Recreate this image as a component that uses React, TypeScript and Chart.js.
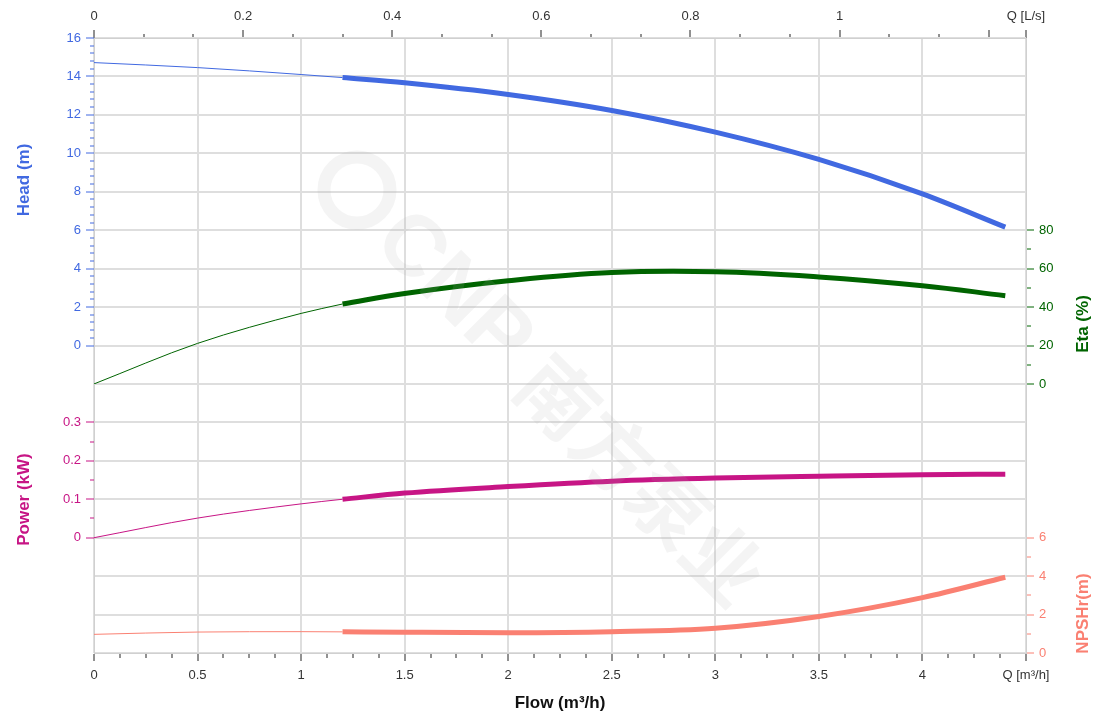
import React, { useEffect, useRef } from 'react';
import { Chart, registerables } from 'chart.js';

Chart.register(...registerables);

// ---------- data ----------
const flowThin = [0, 0.5, 1.0, 1.2];
const flowThick = [1.2, 1.5, 2.0, 2.5, 3.0, 3.5, 4.0, 4.4];

const headThin = [14.72, 14.46, 14.1, 13.94];
const headThick = [13.94, 13.67, 13.06, 12.23, 11.1, 9.68, 7.89, 6.16];

const etaThin = [0, 21.1, 36.7, 41.6];
const etaThick = [41.6, 47.1, 53.7, 58.0, 58.4, 55.7, 51.1, 45.9];

const powerThin = [0, 0.051, 0.088, 0.1];
const powerThick = [0.1, 0.116, 0.133, 0.147, 0.155, 0.16, 0.164, 0.165];

const npshThin = [0.97, 1.09, 1.11, 1.1];
const npshThick = [1.1, 1.08, 1.06, 1.11, 1.29, 1.9, 2.88, 3.94];

// ---------- tick labels ----------
const flowTickValues = [0, 0.5, 1, 1.5, 2, 2.5, 3, 3.5, 4, 4.5];
const flowTickLabels = ['0', '0.5', '1', '1.5', '2', '2.5', '3', '3.5', '4', 'Q [m³/h]'];
const lpsTickValues = [0, 0.2, 0.4, 0.6, 0.8, 1, 1.2, 1.25];
const lpsTickLabels = ['0', '0.2', '0.4', '0.6', '0.8', '1', '', 'Q [L/s]'];
const headTickValues = [0, 2, 4, 6, 8, 10, 12, 14, 16];
const headTickLabels = ['0', '2', '4', '6', '8', '10', '12', '14', '16'];
const powerTickValues = [0, 0.1, 0.2, 0.3];
const powerTickLabels = ['0', '0.1', '0.2', '0.3'];
const etaTickValues = [0, 20, 40, 60, 80];
const etaTickLabels = ['0', '20', '40', '60', '80'];
const npshTickValues = [0, 2, 4, 6];
const npshTickLabels = ['0', '2', '4', '6'];

// ---------- style ----------
const HEAD_C = '#4169E1';
const ETA_C = '#006400';
const POWER_C = '#C71585';
const NPSH_C = '#FA8072';
const GRID_C = '#dedede';
const BORDER_C = '#d0d0d0';
const AXIS_TXT = '#333333';
const FONT = '"Liberation Sans", Arial, sans-serif';

type Tk = { value: number; lbl: string; mark: '' | 'major' | 'minor'; grid: boolean };

function buildTicks(
  values: number[],
  labels: string[],
  minorStep: number,
  grid?: { min: number; max: number; step: number }
): Tk[] {
  const out: Tk[] = [];
  const onGrid = (v: number) => {
    if (!grid) return false;
    const r = (v - grid.min) / grid.step;
    return Math.abs(r - Math.round(r)) < 1e-6;
  };
  values.forEach((v, i) => {
    out.push({ value: v, lbl: labels[i], mark: 'major', grid: onGrid(v) });
    if (i < values.length - 1) {
      const gap = values[i + 1] - v;
      const n = Math.round(gap / minorStep);
      for (let j = 1; j < n; j++) out.push({ value: v + (j * gap) / n, lbl: '', mark: 'minor', grid: false });
    }
  });
  if (grid) {
    const n = Math.round((grid.max - grid.min) / grid.step);
    for (let k = 0; k <= n; k++) {
      const v = grid.min + k * grid.step;
      if (!out.some((t) => Math.abs(t.value - v) < 1e-7)) out.push({ value: v, lbl: '', mark: '', grid: true });
    }
  }
  out.sort((a, b) => a.value - b.value);
  return out;
}

const INNER_HALF = [0, 4, 4, 1000]; // for ticks drawn outer -> inner (left, top)
const OUTER_FIRST = [4, 1000]; // for ticks drawn inner -> outer (right, bottom)

function axis(o: {
  position: string;
  min: number;
  max: number;
  ticks: Tk[];
  color: string;
  tickColor: string;
  drawGrid: boolean;
  size: number;
  padding: number;
  stack?: string;
  stackWeight?: number;
  weight?: number;
  title?: any;
}) {
  const horizontal = o.position === 'top' || o.position === 'bottom';
  const minorDash = o.position === 'left' || o.position === 'top' ? INNER_HALF : OUTER_FIRST;
  const s: any = {
    type: 'linear',
    position: o.position,
    min: o.min,
    max: o.max,
    afterBuildTicks: (sc: any) => {
      sc.ticks = o.ticks.map((t) => ({ ...t }));
    },
    afterFit: (sc: any) => {
      if (horizontal) sc.height = o.size;
      else sc.width = o.size;
    },
    ticks: {
      autoSkip: false,
      maxRotation: 0,
      minRotation: 0,
      padding: o.padding,
      color: o.color,
      font: { size: 13, family: FONT },
      callback: (_v: any, i: number, arr: any[]) => (arr[i] ? arr[i].lbl : ''),
    },
    grid: {
      drawOnChartArea: o.drawGrid,
      drawTicks: true,
      tickLength: 8,
      color: GRID_C,
      lineWidth: (c: any) => (c.tick && c.tick.grid ? 2 : 0),
      tickColor: o.tickColor,
      tickWidth: (c: any) => (c.tick && c.tick.mark ? 1 : 0),
      tickBorderDash: (c: any) => (c.tick && c.tick.mark === 'minor' ? minorDash : []),
    },
    border: { display: true, color: BORDER_C, width: 1 },
    title: o.title || { display: false },
  };
  if (o.stack) {
    s.stack = o.stack;
    s.stackWeight = o.stackWeight;
  }
  if (o.weight !== undefined) s.weight = o.weight;
  return s;
}

const yTitlesPlugin = {
  id: 'yTitles',
  afterDraw(chart: any) {
    const { ctx } = chart;
    const items = [
      { text: 'Head (m)', color: HEAD_C, x: 24.5, y: 180 },
      { text: 'Power (kW)', color: POWER_C, x: 24.5, y: 499.5 },
      { text: 'Eta (%)', color: ETA_C, x: 1083.5, y: 324 },
      { text: 'NPSHr(m)', color: NPSH_C, x: 1083.5, y: 613.5 },
    ];
    ctx.save();
    ctx.font = `bold 17px ${FONT}`;
    ctx.textAlign = 'center';
    ctx.textBaseline = 'middle';
    for (const it of items) {
      ctx.save();
      ctx.translate(it.x, it.y);
      ctx.rotate(-Math.PI / 2);
      ctx.fillStyle = it.color;
      ctx.fillText(it.text, 0, 0);
      ctx.restore();
    }
    ctx.restore();
  },
};

const watermarkPlugin = {
  id: 'watermark',
  afterDatasetsDraw(chart: any) {
    const { ctx } = chart;
    ctx.save();
    ctx.translate(357, 190);
    ctx.rotate(Math.PI / 4);
    ctx.fillStyle = 'rgba(170,170,170,0.13)';
    ctx.strokeStyle = 'rgba(170,170,170,0.13)';
    ctx.lineWidth = 13;
    ctx.beginPath();
    ctx.arc(0, 0, 33, 0, Math.PI * 2);
    ctx.stroke();
    ctx.textBaseline = 'middle';
    ctx.textAlign = 'left';
    ctx.font = `bold 86px ${FONT}`;
    ctx.fillText('CNP', 48, 4);
    ctx.font = 'bold 78px "Noto Sans CJK SC", sans-serif';
    ctx.fillText('南方泵业', 250, 4);
    ctx.restore();
  },
};

function pts(xs: number[], ys: number[]) {
  return xs.map((x, i) => ({ x, y: ys[i] }));
}

export default function App() {
  const ref = useRef<HTMLCanvasElement | null>(null);

  useEffect(() => {
    if (!ref.current) return;
    Chart.defaults.font.family = FONT;
    const common = {
      pointRadius: 0,
      pointHoverRadius: 0,
      fill: false,
      cubicInterpolationMode: 'monotone' as const,
      xAxisID: 'x',
    };
    const smooth = {
      pointRadius: 0,
      pointHoverRadius: 0,
      fill: false,
      cubicInterpolationMode: 'default' as const,
      tension: 0.4,
      xAxisID: 'x',
    };
    const chart = new Chart(ref.current, {
      type: 'line',
      data: {
        datasets: [
          { ...common, data: pts(flowThin, headThin), yAxisID: 'head', borderColor: HEAD_C, borderWidth: 1 },
          { ...common, data: pts(flowThick, headThick), yAxisID: 'head', borderColor: HEAD_C, borderWidth: 5 },
          { ...common, data: pts(flowThin, etaThin), yAxisID: 'eta', borderColor: ETA_C, borderWidth: 1 },
          { ...smooth, data: pts(flowThick, etaThick), yAxisID: 'eta', borderColor: ETA_C, borderWidth: 5 },
          { ...common, data: pts(flowThin, powerThin), yAxisID: 'power', borderColor: POWER_C, borderWidth: 1 },
          { ...common, data: pts(flowThick, powerThick), yAxisID: 'power', borderColor: POWER_C, borderWidth: 5 },
          { ...common, data: pts(flowThin, npshThin), yAxisID: 'npsh', borderColor: NPSH_C, borderWidth: 1 },
          { ...common, data: pts(flowThick, npshThick), yAxisID: 'npsh', borderColor: NPSH_C, borderWidth: 5 },
        ] as any,
      },
      options: {
        responsive: false,
        animation: false,
        devicePixelRatio: 1,
        layout: { padding: 0 },
        plugins: { legend: { display: false }, tooltip: { enabled: false } },
        events: [],
        scales: {
          x: axis({
            position: 'bottom',
            min: 0,
            max: 4.5,
            ticks: buildTicks(flowTickValues, flowTickLabels, 0.125, { min: 0, max: 4.5, step: 0.5 }),
            color: AXIS_TXT,
            tickColor: '#222',
            drawGrid: true,
            size: 65,
            padding: 7,
            title: {
              display: true,
              text: 'Flow (m³/h)',
              color: '#111',
              font: { size: 17, weight: 'bold', family: FONT },
              padding: { top: 4, bottom: 4 },
            },
          }),
          x2: axis({
            position: 'top',
            min: 0,
            max: 1.25,
            ticks: buildTicks(lpsTickValues, lpsTickLabels, 0.2 / 3),
            color: AXIS_TXT,
            tickColor: '#222',
            drawGrid: false,
            size: 38,
            padding: 6,
          }),
          head: axis({
            position: 'left',
            stack: 'left',
            stackWeight: 1,
            weight: 2,
            min: 0,
            max: 16,
            ticks: buildTicks(headTickValues, headTickLabels, 0.4, { min: 0, max: 16, step: 2 }),
            color: HEAD_C,
            tickColor: HEAD_C,
            drawGrid: true,
            size: 94,
            padding: 5,
          }),
          power: axis({
            position: 'left',
            stack: 'left',
            stackWeight: 1,
            weight: 1,
            min: -0.3,
            max: 0.5,
            ticks: buildTicks(powerTickValues, powerTickLabels, 0.05, { min: -0.3, max: 0.5, step: 0.1 }),
            color: POWER_C,
            tickColor: POWER_C,
            drawGrid: true,
            size: 94,
            padding: 5,
          }),
          eta: axis({
            position: 'right',
            stack: 'right',
            stackWeight: 9,
            weight: 1,
            min: 0,
            max: 180,
            ticks: buildTicks(etaTickValues, etaTickLabels, 10),
            color: ETA_C,
            tickColor: ETA_C,
            drawGrid: false,
            size: 94,
            padding: 5,
          }),
          npsh: axis({
            position: 'right',
            stack: 'right',
            stackWeight: 7,
            weight: 2,
            min: 0,
            max: 14,
            ticks: buildTicks(npshTickValues, npshTickLabels, 1),
            color: NPSH_C,
            tickColor: NPSH_C,
            drawGrid: false,
            size: 94,
            padding: 5,
          }),
        } as any,
      },
      plugins: [watermarkPlugin, yTitlesPlugin],
    });
    return () => chart.destroy();
  }, []);

  return (
    <div style={{ position: 'fixed', left: 0, top: 0, width: 1120, height: 718, background: '#fff' }}>
      <canvas ref={ref} width={1120} height={718} style={{ display: 'block', width: 1120, height: 718 }} />
    </div>
  );
}
